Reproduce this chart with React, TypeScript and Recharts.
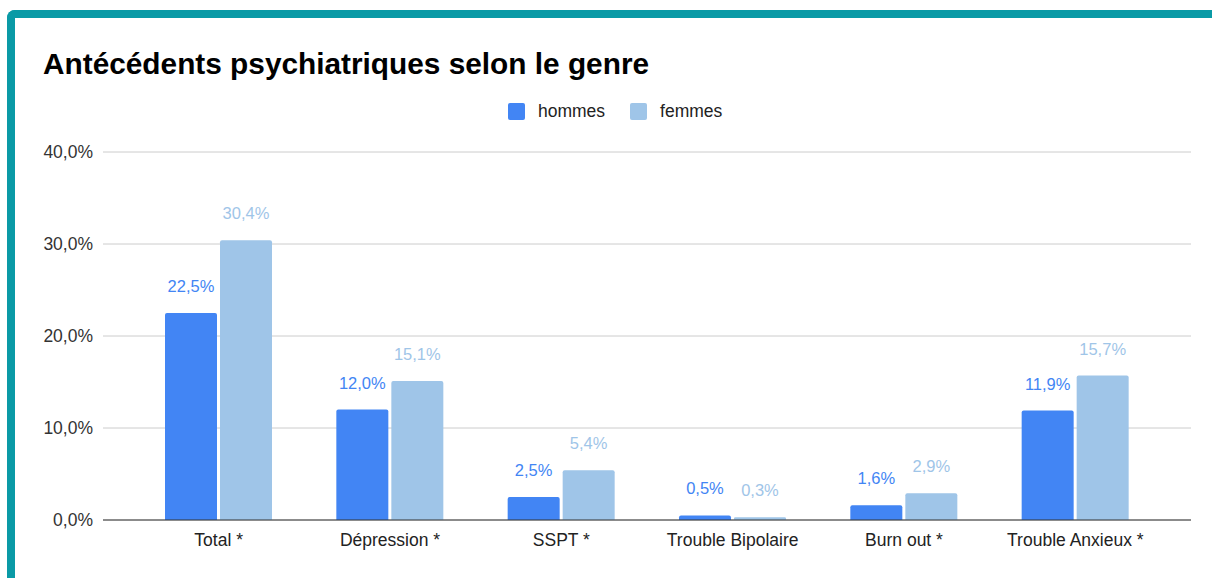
import React from "react";
import {
  BarChart,
  Bar,
  XAxis,
  YAxis,
  CartesianGrid,
  LabelList,
} from "recharts";

const categories = [
  "Total *",
  "Dépression *",
  "SSPT *",
  "Trouble Bipolaire",
  "Burn out *",
  "Trouble Anxieux *",
];
const hommes = [22.5, 12.0, 2.5, 0.5, 1.6, 11.9];
const femmes = [30.4, 15.1, 5.4, 0.3, 2.9, 15.7];
const yTicks = [0, 10, 20, 30, 40];

const data = categories.map((name, i) => ({
  name,
  hommes: hommes[i],
  femmes: femmes[i],
}));

const FONT = '"Liberation Sans", Arial, sans-serif';
const BLUE = "#4285f4";
const LIGHT = "#9fc5e8";

const series = [
  { key: "hommes", color: BLUE },
  { key: "femmes", color: LIGHT },
];

const pct = (v: number) => v.toFixed(1).replace(".", ",") + "%";

const App: React.FC = () => {
  return (
    <div
      style={{
        position: "absolute",
        left: 0,
        top: 0,
        width: 1212,
        height: 578,
        background: "#fff",
        overflow: "hidden",
        fontFamily: FONT,
      }}
    >
      <div
        style={{
          position: "absolute",
          left: 7,
          top: 10,
          width: 1300,
          height: 700,
          borderTop: "8px solid #0a9aa6",
          borderLeft: "8px solid #0a9aa6",
          borderTopLeftRadius: 8,
          boxSizing: "border-box",
        }}
      />
      <div
        style={{
          position: "absolute",
          left: 43,
          top: 49,
          fontSize: 29.8,
          lineHeight: "29px",
          fontWeight: "bold",
          color: "#000",
          whiteSpace: "nowrap",
        }}
      >
        Antécédents psychiatriques selon le genre
      </div>
      {/* legend */}
      <div
        style={{
          position: "absolute",
          left: 508,
          top: 101,
          display: "flex",
          alignItems: "center",
        }}
      >
        {series.map((s, i) => (
          <div
            key={s.key}
            style={{
              display: "flex",
              alignItems: "center",
              marginLeft: i === 0 ? 0 : 25,
            }}
          >
            <span
              style={{
                display: "inline-block",
                width: 17,
                height: 17,
                borderRadius: 2,
                background: s.color,
                marginRight: 13,
              }}
            />
            <span style={{ fontSize: 17.5, color: "#222", lineHeight: "20px" }}>
              {s.key}
            </span>
          </div>
        ))}
      </div>
      <div style={{ position: "absolute", left: 0, top: 0 }}>
        <BarChart
          width={1212}
          height={578}
          data={data}
          margin={{ top: 152, right: 21, bottom: 28, left: 0 }}
          barSize={52}
          barGap={3}
        >
          <CartesianGrid vertical={false} stroke="#cccccc" />
          <XAxis
            dataKey="name"
            height={30}
            padding={{ left: 30, right: 30 }}
            tickLine={false}
            tickMargin={8}
            axisLine={{ stroke: "#333" }}
            tick={{ fill: "#222", fontSize: 17.5, fontFamily: FONT }}
            interval={0}
          />
          <YAxis
            width={103}
            domain={[0, 40]}
            ticks={yTicks}
            tickFormatter={pct}
            tickLine={false}
            axisLine={false}
            tickMargin={4}
            tick={{ fill: "#333", fontSize: 17.5, fontFamily: FONT }}
          />
          {series.map((s) => (
            <Bar
              key={s.key}
              dataKey={s.key}
              name={s.key}
              fill={s.color}
              radius={[2, 2, 0, 0]}
              isAnimationActive={false}
            >
              <LabelList
                dataKey={s.key}
                position="top"
                offset={21}
                formatter={(v: any) => pct(Number(v))}
                style={{ fill: s.color, fontSize: 16.5, fontFamily: FONT }}
              />
            </Bar>
          ))}
        </BarChart>
      </div>
    </div>
  );
};

export default App;
